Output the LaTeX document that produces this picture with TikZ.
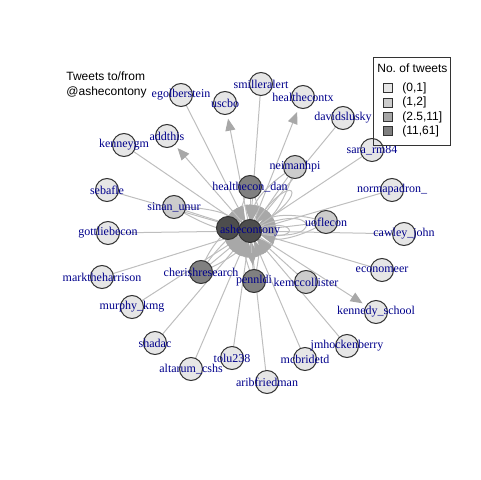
\documentclass[tikz,border=0pt]{standalone}
\usepackage{fontspec}
\setmainfont{Liberation Serif}
\newfontfamily\hfont{Liberation Sans}
\usetikzlibrary{arrows.meta}
\definecolor{edgec}{HTML}{BEBEBE}
\definecolor{arrc}{HTML}{A8A8A8}
\definecolor{labc}{HTML}{00008B}
\definecolor{nodeb}{HTML}{333333}
\definecolor{c1}{HTML}{E6E6E6}
\definecolor{c2}{HTML}{CCCCCC}
\definecolor{c3}{HTML}{808080}
\definecolor{c4}{HTML}{4D4D4D}
\definecolor{l3}{HTML}{A6A6A6}
\definecolor{l4}{HTML}{7F7F7F}
\begin{document}
\begin{tikzpicture}[x=0.5pt,y=-0.5pt,
 e/.style={draw=edgec, line width=0.5pt},
 ein/.style={e, -{Triangle[length=8pt,width=5.5pt,color=arrc]}, shorten >=5pt},
 eout/.style={e, -{Triangle[length=6pt,width=5pt,color=arrc]}, shorten >=8pt},
 v/.style={circle, draw=nodeb, line width=0.5pt, minimum size=11.5pt, inner sep=0pt},
 lab/.style={text=labc, font=\fontsize{6}{7}\selectfont, inner sep=0pt},
 ttl/.style={font=\hfont\fontsize{6}{7}\selectfont, inner sep=0pt, anchor=west},
 sq/.style={draw=nodeb, line width=0.4pt, minimum size=4.5pt, inner sep=0pt}
]
\useasboundingbox (0,0) rectangle (480,480);
% coordinates
\coordinate (ash) at (250,231);
\coordinate (dk) at (228,228);
\coordinate (hd) at (250,187);
\coordinate (pen) at (254,281);
\coordinate (cher) at (201,272);
\coordinate (sin) at (174,207);
\coordinate (nei) at (295,167);
\coordinate (uof) at (326,222);
\coordinate (kem) at (306,282);
\coordinate (ego) at (181,95);
\coordinate (usc) at (225,103);
\coordinate (smi) at (261,84);
\coordinate (hcx) at (303,97);
\coordinate (dav) at (343,118);
\coordinate (sar) at (372,150);
\coordinate (add) at (167,136);
\coordinate (ken) at (124,145);
\coordinate (seb) at (107,190);
\coordinate (got) at (108,233);
\coordinate (mark) at (102,277);
\coordinate (mur) at (132,307);
\coordinate (sha) at (155,343);
\coordinate (alt) at (191,369);
\coordinate (tol) at (232,358);
\coordinate (arib) at (267,382);
\coordinate (mcb) at (305,359);
\coordinate (jmh) at (347,346);
\coordinate (kenn) at (376,312);
\coordinate (eco) at (382,270);
\coordinate (caw) at (404,234);
\coordinate (norm) at (392,190);
% edges into the hub
\foreach \n in {ego,smi,dav,sar,ken,seb,got,mark,mur,sha,alt,tol,arib,mcb,jmh,eco,caw,norm,kem,hd,cher,sin,nei,uof,dk,pen}
  \draw[ein] (\n) -- (ash);
% extra curved multi-edges
\draw[ein] (sin) to[bend left=18] (ash);
\draw[ein] (sin) to[bend right=14] (ash);
\draw[ein] (cher) to[bend left=18] (ash);
\draw[ein] (cher) to[bend right=18] (ash);
\draw[ein] (cher) to[bend left=35] (ash);
\draw[ein] (nei) to[bend left=20] (ash);
\draw[ein] (nei) to[bend right=25] (ash);
\draw[ein] (hd) to[bend left=30] (ash);
\draw[ein] (hd) to[bend right=30] (ash);
\draw[ein] (uof) to[bend left=25] (ash);
\draw[ein] (uof) to[bend right=25] (ash);
\draw[ein] (pen) to[bend left=20] (ash);
\draw[ein] (pen) to[bend right=20] (ash);
\draw[ein] (dk) to[bend left=40] (ash);
\draw[ein] (dk) to[bend right=40] (ash);
\draw[e] (ash) .. controls (320,195) and (330,250) .. (ash);
\draw[e] (ash) .. controls (300,212) and (305,248) .. (ash);
\draw[e] (ash) .. controls (290,165) and (320,190) .. (ash);
% edges out of the hub
\foreach \n in {usc,hcx,add,kenn,pen}
  \draw[eout] (ash) -- (\n);
% nodes
\foreach \n/\c in {ego/c1,usc/c1,smi/c1,hcx/c1,dav/c1,sar/c1,add/c1,ken/c1,seb/c1,got/c1,mark/c1,mur/c1,sha/c1,alt/c1,tol/c1,arib/c1,mcb/c1,jmh/c1,kenn/c1,eco/c1,caw/c1,norm/c1,kem/c2,uof/c2,nei/c2,sin/c2,hd/c3,cher/c3,pen/c3,dk/c4,ash/c4}
  \node[v, fill=\c] (n\n) at (\n) {};
% labels
\foreach \n/\t in {ego/egolberstein,usc/uscbo,smi/smilleralert,hcx/healthecontx,dav/davidslusky,sar/sara\_rm84,add/addthis,ken/kenneygm,seb/sebafle,got/gottliebecon,mark/marktheharrison,mur/murphy\_kmg,sha/shadac,alt/altarum\_cshs,tol/tolu238,arib/aribfriedman,mcb/mcbridetd,jmh/jmhockenberry,kenn/kennedy\_school,eco/economeer,caw/cawley\_john,norm/normapadron\_,kem/kemccollister,uof/uoflecon,nei/neimanhpi,sin/sinan\_unur,hd/healthecon\_dan,cher/cherishresearch,pen/pennldi,ash/ashecontony}
  \node[lab] (l\n) at (\n) {\t};
% title
\node[ttl] (t1) at (66,76) {Tweets to/from};
\node[ttl] (t2) at (66,92) {@ashecontony};
% legend
\draw[line width=0.5pt, draw=nodeb] (373,58) rectangle (450,146);
\node[ttl] (lt) at (377,68.5) {No.\ of tweets};
\foreach \y/\c/\t [count=\i] in {88/c1/{(0,1]},102.5/c2/{(1,2]},117/l3/{(2.5,11]},131/l4/{(11,61]}}{
  \node[sq, fill=\c] (s\i) at (388,\y) {};
  \node[ttl] (st\i) at (402,\y) {\t};
}
\end{tikzpicture}
\end{document}
